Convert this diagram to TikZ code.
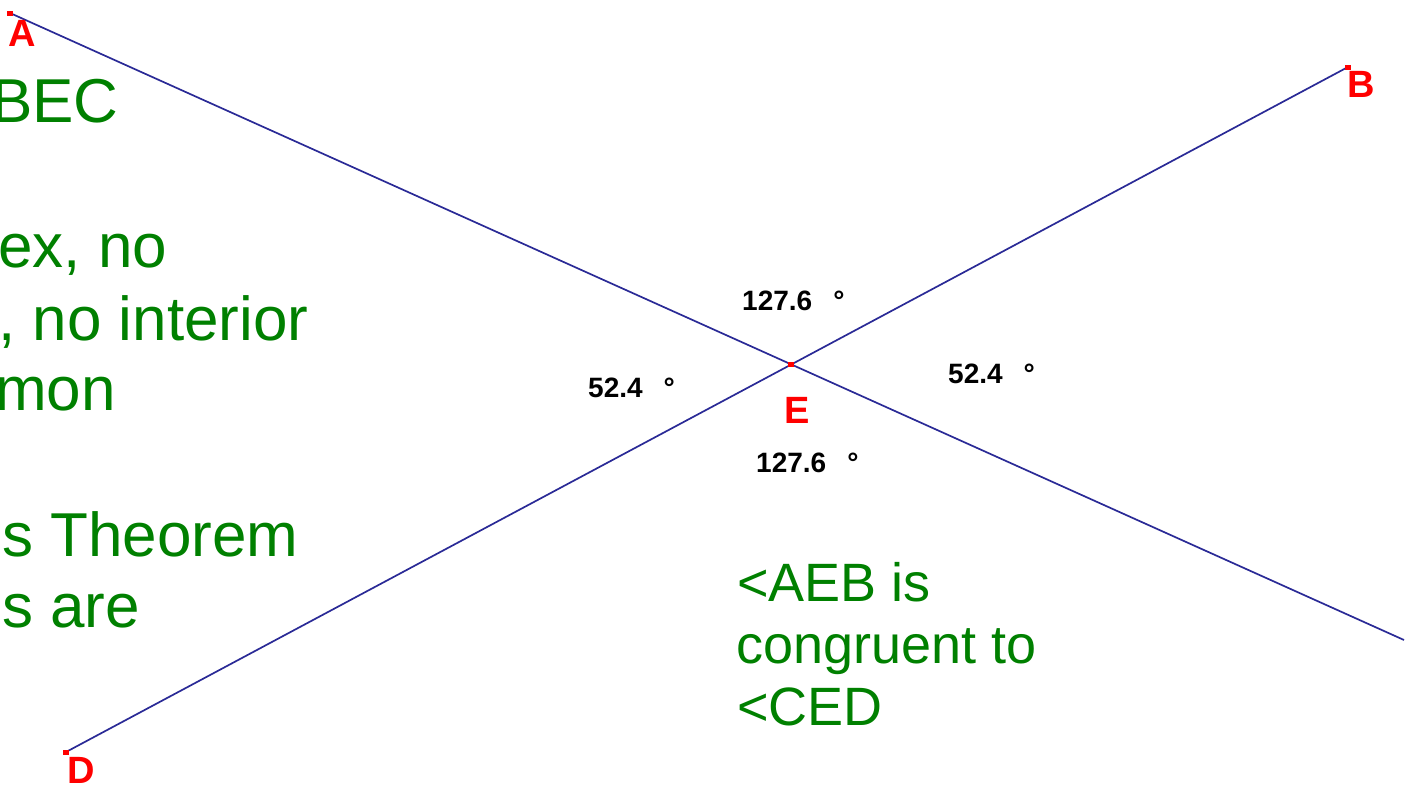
\documentclass[tikz,border=0pt]{standalone}
\usepackage{fontspec}
\setmainfont{Liberation Sans}
\usetikzlibrary{positioning}
\definecolor{segment}{HTML}{2A2A96}
\definecolor{ptred}{HTML}{FF0000}
\definecolor{notegreen}{HTML}{008000}

\begin{document}
\begin{tikzpicture}[x=1pt, y=-1pt,
  pt/.style={fill=ptred, inner sep=0pt, minimum width=6pt, minimum height=5pt},
  ptlabel/.style={anchor=base west, inner sep=0pt, text=ptred, font=\fontsize{38}{42}\selectfont\bfseries},
  anglabel/.style={anchor=base west, inner sep=0pt, font=\fontsize{28}{32}\selectfont\bfseries},
  note/.style={anchor=base west, inner sep=0pt, text=notegreen}]
  \useasboundingbox (0,0) rectangle (1416,795);
  \clip (0,0) rectangle (1416,795);

  % Points
  \coordinate (A) at (10,13);
  \coordinate (B) at (1348,67);
  \coordinate (C) at (1404,640);
  \coordinate (D) at (66,752);
  \coordinate (E) at (791,364);

  % Lines
  \draw[segment, line width=1.7pt] (A) -- (C);
  \draw[segment, line width=1.7pt] (B) -- (D);

  % Point marks
  \foreach \p in {A, B, D, E} {
    \node[pt] (mark\p) at (\p) {};
  }

  % Point labels
  \node[ptlabel] (labA) at (8,46) {A};
  \node[ptlabel] (labB) at (1347,97) {B};
  \node[ptlabel] (labD) at (67,783) {D};
  \node[ptlabel] (labE) at (784,423) {E};

  % Angle measures
  \foreach \x/\y/\lab/\name in {742/310/127.6/top, 756/472/127.6/bot, 588/397/52.4/lft, 948/383/52.4/rgt} {
    \node[anglabel] (ang\name) at (\x,\y) {\lab\hspace{21pt}°};
  }

  % Notes (left, cut by the border)
  \foreach \x/\y/\lab [count=\i] in {-9/122/BEC, -2/267/{ex, no}, -2/340/{, no interior}, -5/410/mon, 2/556/{s Theorem}, 2/627/{s are}} {
    \node[note, font=\fontsize{62}{72}\selectfont] (left\i) at (\x,\y) {\lab};
  }

  % Notes (right)
  \foreach \x/\y/\lab [count=\i] in {737/601/{<AEB is}, 736/663/{congruent to}, 737/725/{<CED}} {
    \node[note, font=\fontsize{54}{62}\selectfont] (right\i) at (\x,\y) {\lab};
  }
\end{tikzpicture}
\end{document}
